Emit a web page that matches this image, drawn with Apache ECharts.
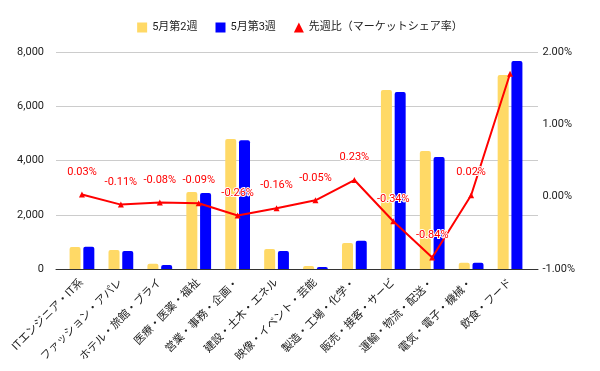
<!DOCTYPE html>
<html><head><meta charset="utf-8">
<script src="https://cdn.jsdelivr.net/npm/echarts@6/dist/echarts.min.js"></script>
<style>html,body{margin:0;padding:0;background:#fff}#c{width:600px;height:371px}</style>
</head><body><div id="c"></div>
<script>
const categories = ["ITエンジニア・IT系","ファッション・アパレ","ホテル・旅館・ブライ","医療・医薬・福祉","営業・事務・企画・","建設・土木・エネル","映像・イベント・芸能","製造・工場・化学・","販売・接客・サービ","運輸・物流・配送・","電気・電子・機械・","飲食・フード"];
const week2 = [810, 700, 190, 2840, 4790, 740, 110, 960, 6600, 4350, 230, 7150];
const week3 = [820, 660, 150, 2800, 4750, 660, 75, 1040, 6525, 4130, 230, 7670];
const ratio = [0.03, -0.11, -0.08, -0.09, -0.26, -0.16, -0.05, 0.23, -0.34, -0.84, 0.02, 1.70];
const leftTicks = [0, 2000, 4000, 6000, 8000];
const rightTicks = [-1, 0, 1, 2];
const seriesNames = ["5月第2週", "5月第3週", "先週比（マーケットシェア率）"];

const FONT = 'Roboto, "Noto Sans CJK JP", sans-serif';
const chart = echarts.init(document.getElementById('c'));
chart.setOption({
  animation: false,
  textStyle: {fontFamily: FONT},
  legend: {
    top: 17, left: 'center', itemWidth: 10, itemHeight: 10, itemGap: 18,
    textStyle: {fontSize: 11, color: '#222', fontFamily: FONT},
    data: [
      {name: seriesNames[0], icon: 'rect'},
      {name: seriesNames[1], icon: 'rect'},
      {name: seriesNames[2], icon: 'triangle'}
    ]
  },
  grid: [
    {left: 62.5, right: 70.5, top: 52, bottom: 102},
    {left: 56, right: 62, top: 52, bottom: 102}
  ],
  xAxis: [
    {type: 'category', gridIndex: 0, data: categories,
     axisLine: {show: false}, axisTick: {show: false},
     axisLabel: {rotate: 45, interval: 0, fontSize: 11, color: '#222', margin: 12, fontFamily: FONT}},
    {type: 'category', gridIndex: 1, data: [''],
     axisLine: {show: true, lineStyle: {color: '#333', width: 1}}, axisTick: {show: false}, axisLabel: {show: false}}
  ],
  yAxis: [
    {type: 'value', gridIndex: 0, min: leftTicks[0], max: leftTicks[leftTicks.length-1], interval: 2000,
     show: false, splitLine: {show: false}},
    {type: 'value', gridIndex: 0, position: 'right', min: rightTicks[0], max: rightTicks[rightTicks.length-1], interval: 1,
     axisLine: {show: false}, axisTick: {show: false}, splitLine: {show: false},
     axisLabel: {fontSize: 11, color: '#222', margin: 13, formatter: v => v.toFixed(2) + '%', fontFamily: FONT}},
    {type: 'value', gridIndex: 1, min: leftTicks[0], max: leftTicks[leftTicks.length-1], interval: 2000,
     axisLine: {show: false}, axisTick: {show: false},
     splitLine: {show: true, lineStyle: {color: '#cccccc'}},
     axisLabel: {fontSize: 11, color: '#222', margin: 12, fontFamily: FONT,
       formatter: v => v.toLocaleString('en-US')}}
  ],
  series: [
    {name: seriesNames[0], type: 'bar', xAxisIndex: 0, yAxisIndex: 0, data: week2,
     barWidth: 11, barGap: '25%', itemStyle: {color: '#FFD966', borderRadius: [2,2,0,0]}},
    {name: seriesNames[1], type: 'bar', xAxisIndex: 0, yAxisIndex: 0, data: week3,
     barWidth: 11, barGap: '25%', itemStyle: {color: '#0000FF', borderRadius: [2,2,0,0]}},
    {name: seriesNames[2], type: 'line', xAxisIndex: 0, yAxisIndex: 1, data: ratio,
     symbol: 'triangle', symbolSize: 6, z: 5,
     lineStyle: {color: '#FF0000', width: 2}, itemStyle: {color: '#FF0000'},
     label: {show: true, position: 'top', distance: 14, fontSize: 11, color: '#FF0000', fontFamily: FONT,
       textBorderColor: '#fff', textBorderWidth: 2,
       formatter: p => p.dataIndex === ratio.length - 1 ? '' : p.value.toFixed(2) + '%'}}
  ]
});
</script></body></html>
